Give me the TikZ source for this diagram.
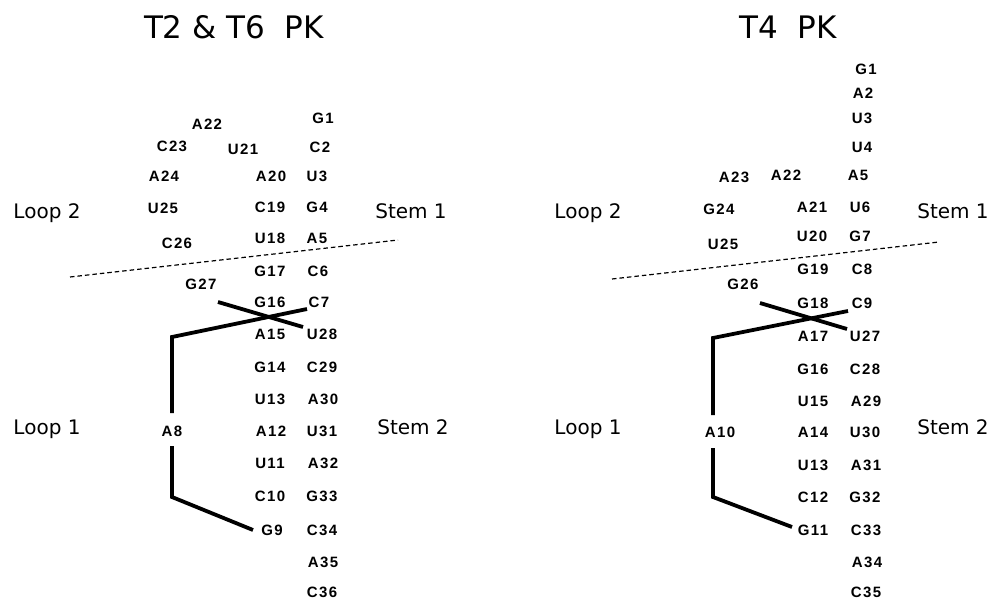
\documentclass[tikz,border=0pt]{standalone}
\usepackage{fontspec}
\setmainfont{DejaVu Sans}
\newfontfamily\basefont[LetterSpace=9]{Liberation Sans Bold}
\begin{document}
\begin{tikzpicture}[x=1pt,y=-1pt,
  base/.style={font=\basefont\fontsize{15}{16}\selectfont, inner sep=0pt, anchor=center},
  region/.style={font=\fontsize{20}{22}\selectfont, inner sep=0pt, anchor=base},
  heading/.style={font=\fontsize{31}{34}\selectfont, inner sep=0pt, anchor=base},
  strand/.style={line width=3.8pt, line join=miter},
  boundary/.style={line width=1.2pt, dash pattern=on 4.5pt off 3pt}]
\path[use as bounding box] (0,0) rectangle (992,600);

% ---------------- T2 & T6 pseudoknot ----------------
\node[heading] (aTitle) at (234,38) {T2 \& T6\ \ PK};
\node[region] (aLoop2) at (47,218) {Loop 2};
\node[region] (aStem1) at (411,218) {Stem 1};
\node[region] (aLoop1) at (47,434) {Loop 1};
\node[region] (aStem2) at (413,434) {Stem 2};

\node[base] (aG1)  at (323,118) {G1};
\node[base] (aA22) at (207,124) {A22};
\node[base] (aC23) at (172,146) {C23};
\node[base] (aU21) at (243,149) {U21};
\node[base] (aC2)  at (320,147) {C2};
\node[base] (aA24) at (164,176) {A24};
\node[base] (aA20) at (271,176) {A20};
\node[base] (aU3)  at (317,176) {U3};
\node[base] (aU25) at (163,208) {U25};
\node[base] (aC19) at (270,207) {C19};
\node[base] (aG4)  at (317,207) {G4};
\node[base] (aC26) at (177,243) {C26};
\node[base] (aU18) at (270,238) {U18};
\node[base] (aA5)  at (317,238) {A5};
\node[base] (aG17) at (270,271) {G17};
\node[base] (aC6)  at (318,271) {C6};
\node[base] (aG27) at (201,284) {G27};
\node[base] (aG16) at (270,302) {G16};
\node[base] (aC7)  at (319,302) {C7};
\node[base] (aA15) at (270,334) {A15};
\node[base] (aU28) at (322,334) {U28};
\node[base] (aG14) at (270,367) {G14};
\node[base] (aC29) at (322,367) {C29};
\node[base] (aU13) at (270,399) {U13};
\node[base] (aA30) at (323,399) {A30};
\node[base] (aA8)  at (172,431) {A8};
\node[base] (aA12) at (271,431) {A12};
\node[base] (aU31) at (322,431) {U31};
\node[base] (aU11) at (270,463) {U11};
\node[base] (aA32) at (323,463) {A32};
\node[base] (aC10) at (270,496) {C10};
\node[base] (aG33) at (322,496) {G33};
\node[base] (aG9)  at (272,530) {G9};
\node[base] (aC34) at (322,530) {C34};
\node[base] (aA35) at (323,562) {A35};
\node[base] (aC36) at (322,592) {C36};

\coordinate (aDashL) at (70,277);
\coordinate (aDashR) at (398,240);
\draw[boundary] (aDashL) -- (aDashR);

\coordinate (aCrossA) at (218,302);
\coordinate (aCrossB) at (303,327);
\coordinate (aCrossC) at (307,309);
\coordinate (aCorner) at (172,337);
\coordinate (aA8top)  at (172,413);
\coordinate (aA8bot)  at (172,446);
\coordinate (aLow)    at (172,497);
\coordinate (aEnd)    at (253,530);
\draw[strand] (aCrossA) -- (aCrossB);
\draw[strand] (aCrossC) -- (aCorner) -- (aA8top);
\draw[strand] (aA8bot) -- (aLow) -- (aEnd);

% ---------------- T4 pseudoknot ----------------
\node[heading] (bTitle) at (788,38) {T4\ \ PK};
\node[region] (bLoop2) at (588,218) {Loop 2};
\node[region] (bStem1) at (953,218) {Stem 1};
\node[region] (bLoop1) at (588,434) {Loop 1};
\node[region] (bStem2) at (953,434) {Stem 2};

\node[base] (bG1)  at (866,69)  {G1};
\node[base] (bA2)  at (863,93)  {A2};
\node[base] (bU3)  at (862,118) {U3};
\node[base] (bU4)  at (862,147) {U4};
\node[base] (bA5)  at (858,175) {A5};
\node[base] (bA23) at (734,177) {A23};
\node[base] (bA22) at (786,175) {A22};
\node[base] (bG24) at (719,209) {G24};
\node[base] (bA21) at (812,207) {A21};
\node[base] (bU6)  at (860,207) {U6};
\node[base] (bU25) at (723,244) {U25};
\node[base] (bU20) at (812,236) {U20};
\node[base] (bG7)  at (860,236) {G7};
\node[base] (bG19) at (813,269) {G19};
\node[base] (bC8)  at (862,269) {C8};
\node[base] (bG26) at (743,284) {G26};
\node[base] (bG18) at (813,303) {G18};
\node[base] (bC9)  at (862,303) {C9};
\node[base] (bA17) at (813,336) {A17};
\node[base] (bU27) at (865,336) {U27};
\node[base] (bG16) at (813,369) {G16};
\node[base] (bC28) at (865,369) {C28};
\node[base] (bU15) at (813,401) {U15};
\node[base] (bA29) at (866,401) {A29};
\node[base] (bA10) at (720,432) {A10};
\node[base] (bA14) at (813,432) {A14};
\node[base] (bU30) at (865,432) {U30};
\node[base] (bU13) at (813,465) {U13};
\node[base] (bA31) at (866,465) {A31};
\node[base] (bC12) at (813,497) {C12};
\node[base] (bG32) at (865,497) {G32};
\node[base] (bG11) at (813,530) {G11};
\node[base] (bC33) at (866,530) {C33};
\node[base] (bA34) at (867,562) {A34};
\node[base] (bC35) at (866,592) {C35};

\coordinate (bDashL) at (612,279);
\coordinate (bDashR) at (939,242);
\draw[boundary] (bDashL) -- (bDashR);

\coordinate (bCrossA) at (760,303);
\coordinate (bCrossB) at (847,329);
\coordinate (bCrossC) at (848,311);
\coordinate (bCorner) at (713,338);
\coordinate (bA10top) at (713,415);
\coordinate (bA10bot) at (713,448);
\coordinate (bLow)    at (713,497);
\coordinate (bEnd)    at (792,527);
\draw[strand] (bCrossA) -- (bCrossB);
\draw[strand] (bCrossC) -- (bCorner) -- (bA10top);
\draw[strand] (bA10bot) -- (bLow) -- (bEnd);
\end{tikzpicture}
\end{document}
